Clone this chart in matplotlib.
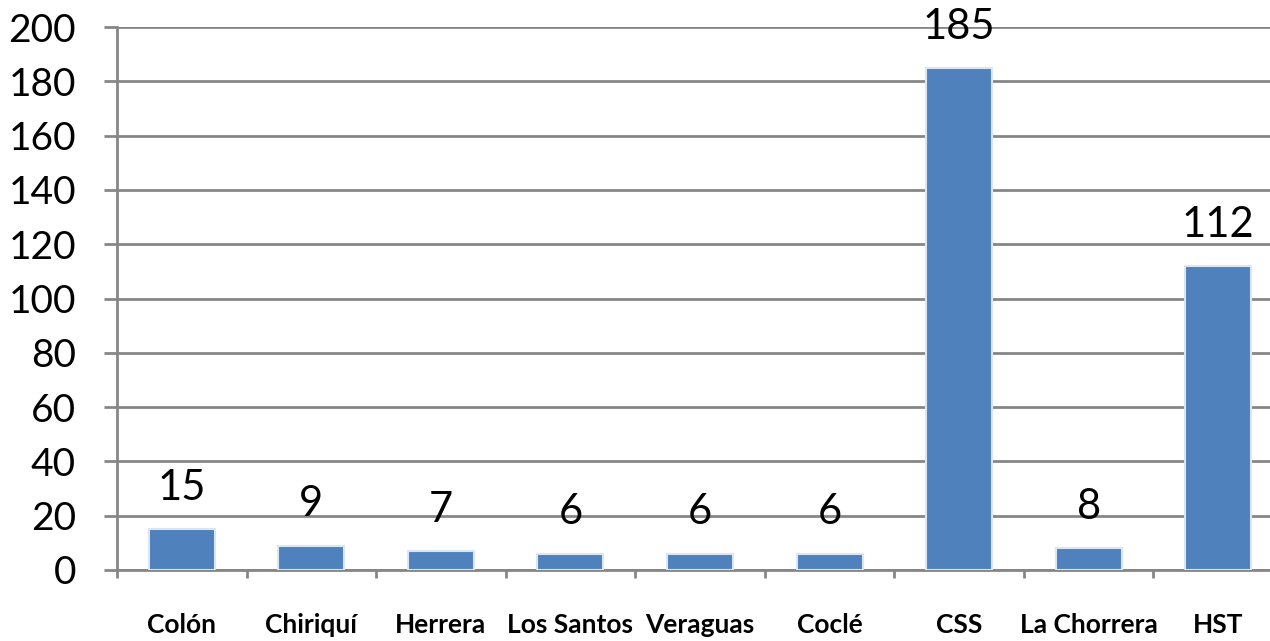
import matplotlib
matplotlib.use("Agg")
import matplotlib.pyplot as plt
import numpy as np

categories = ["Colón", "Chiriquí", "Herrera", "Los Santos", "Veraguas", "Coclé", "CSS", "La Chorrera", "HST"]
values = [15, 9, 7, 6, 6, 6, 185, 8, 112]
yticks = [0, 20, 40, 60, 80, 100, 120, 140, 160, 180, 200]

plt.rcParams['font.family'] = ['Lato', 'DejaVu Sans']

fig = plt.figure(figsize=(12.7, 6.41), dpi=100)
ax = fig.add_axes([117/1270, 1 - 570/641, 1166/1270, 543/641])

x = np.arange(len(categories))
ax.bar(x, values, width=0.51, color="#4F81BD", edgecolor="#DCE6F2", linewidth=1.5, zorder=3)

for xi, v in zip(x, values):
    ax.annotate(str(v), (xi, v), xytext=(0, 16), textcoords="offset points",
                ha="center", va="bottom", fontsize=30, color="black", zorder=4)

ax.set_xlim(-0.5, len(categories) - 0.5)
ax.set_ylim(0, 200)
ax.set_yticks(yticks)
ax.set_yticklabels([str(t) for t in yticks], fontsize=28)
ax.yaxis.grid(True, color="#868686", linewidth=2, zorder=0)
ax.tick_params(axis="y", length=9.5, width=2, color="#868686", pad=20)

ax.set_xticks(x)
ax.set_xticklabels(categories, fontsize=19, fontweight="bold")
ax.tick_params(axis="x", which="major", length=0, pad=31)
ax.set_xticks(np.arange(len(categories) + 1) - 0.5, minor=True)
ax.tick_params(axis="x", which="minor", length=6, width=2, color="#868686")

for s in ["top", "right"]:
    ax.spines[s].set_visible(False)
for s in ["left", "bottom"]:
    ax.spines[s].set_color("#868686")
    ax.spines[s].set_linewidth(2)

fig.savefig("out.png", dpi=100)
